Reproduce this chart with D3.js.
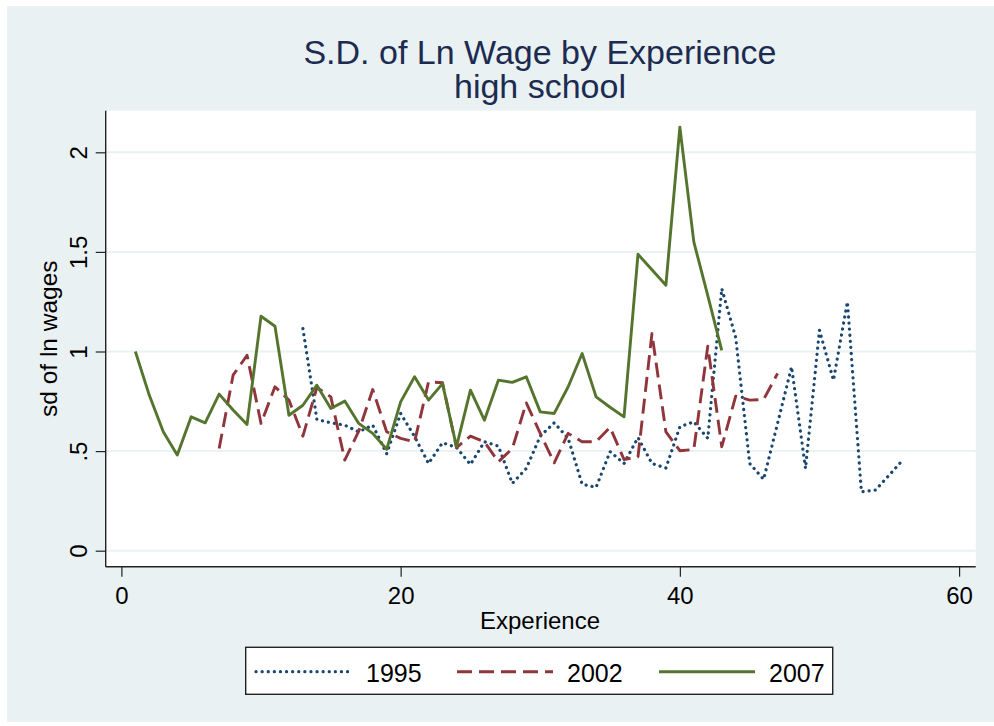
<!DOCTYPE html>
<html>
<head>
<meta charset="utf-8">
<script src="https://cdn.jsdelivr.net/npm/d3@7"></script>
<style>
  body { margin: 0; background: #fff; }
  svg { display: block; font-family: "Liberation Sans", Arial, sans-serif; }
</style>
</head>
<body>
<svg id="chart" width="994" height="726"></svg>
<script>
const width = 994, height = 726;

// experience (years) per series
const exp1995 = d3.range(13, 57);
const exp2002 = d3.range(7, 48);
const exp2007 = d3.range(1, 44);

// sd of ln wages
const sd1995 = [1.115, 0.659, 0.642, 0.63, 0.597, 0.63, 0.487, 0.689, 0.573, 0.438,
  0.542, 0.518, 0.433, 0.547, 0.525, 0.338, 0.413, 0.575, 0.642, 0.564,
  0.334, 0.318, 0.497, 0.438, 0.568, 0.438, 0.415, 0.622, 0.647, 0.564,
  1.316, 1.07, 0.438, 0.358, 0.64, 0.923, 0.413, 1.107, 0.856, 1.249,
  0.296, 0.304, 0.38, 0.458];
const sd2002 = [0.513, 0.881, 0.981, 0.639, 0.823, 0.756, 0.575, 0.819, 0.772, 0.455,
  0.6, 0.809, 0.597, 0.564, 0.547, 0.848, 0.843, 0.518, 0.575, 0.547,
  0.446, 0.513, 0.742, 0.589, 0.441, 0.589, 0.547, 0.547, 0.619, 0.458,
  0.471, 1.09, 0.597, 0.502, 0.508, 1.027, 0.522, 0.776, 0.756, 0.759, 0.89];
const sd2007 = [1.0, 0.78, 0.597, 0.48, 0.672, 0.642, 0.786, 0.706, 0.634, 1.177,
  1.127, 0.68, 0.73, 0.831, 0.714, 0.751, 0.639, 0.589, 0.509, 0.747,
  0.873, 0.756, 0.839, 0.522, 0.806, 0.655, 0.856, 0.845, 0.873, 0.697,
  0.689, 0.823, 0.99, 0.772, 0.72, 0.672, 1.488, 1.41, 1.333, 2.126,
  1.55, 1.28, 1.006];

const seriesNames = ["1995", "2002", "2007"];
const xTicks = [0, 20, 40, 60];
const yTicks = [0, 0.5, 1, 1.5, 2];
const yTickLabels = ["0", ".5", "1", "1.5", "2"];

const series = [
  {name: seriesNames[0], x: exp1995, y: sd1995, color: "#1a476f", dash: "0.1 6", cap: "round", w: 3.2},
  {name: seriesNames[1], x: exp2002, y: sd2002, color: "#90353b", dash: "15 7", cap: "butt", w: 2.9},
  {name: seriesNames[2], x: exp2007, y: sd2007, color: "#55752f", dash: null, cap: "butt", w: 2.9}
];

const plot = {left: 105.7, right: 975.7, top: 110.7, bottom: 566.7};

const x = d3.scaleLinear().domain([0, 60]).range([121.4, 959.1]);
const y = d3.scaleLinear().domain([0, 2]).range([550.7, 152.3]);

const svg = d3.select("#chart");

// outer background
svg.append("rect")
  .attr("x", 7).attr("y", 6)
  .attr("width", width - 7).attr("height", height - 10)
  .attr("fill", "#eaf1f3");

// plot region
svg.append("rect")
  .attr("x", plot.left).attr("y", plot.top)
  .attr("width", plot.right - plot.left).attr("height", plot.bottom - plot.top)
  .attr("fill", "#fff");

// grid
svg.append("g")
  .selectAll("line")
  .data(yTicks)
  .join("line")
    .attr("x1", plot.left).attr("x2", plot.right)
    .attr("y1", d => y(d)).attr("y2", d => y(d))
    .attr("stroke", "#eaf2f3")
    .attr("stroke-width", 2);

// lines
const line = d3.line().x(d => x(d[0])).y(d => y(d[1]));
svg.append("g")
    .attr("fill", "none")
    .attr("stroke-linejoin", "round")
  .selectAll("path")
  .data(series)
  .join("path")
    .attr("stroke", d => d.color)
    .attr("stroke-width", d => d.w)
    .attr("stroke-dasharray", d => d.dash)
    .attr("stroke-linecap", d => d.cap)
    .attr("d", d => line(d.x.map((v, i) => [v, d.y[i]])));

// x axis
const gx = svg.append("g")
  .attr("transform", `translate(0,${plot.bottom})`)
  .call(d3.axisBottom(x).tickValues(xTicks).tickSize(10).tickFormat(d3.format("d")));
gx.select(".domain").attr("d", `M${plot.left},0H${plot.right}`).attr("stroke", "#222").attr("stroke-width", 1.4);
gx.selectAll(".tick line").attr("stroke", "#222").attr("stroke-width", 1.2);
gx.selectAll(".tick text")
  .attr("y", 37.6).attr("dy", 0)
  .attr("font-size", 24).attr("fill", "#000")
  .attr("font-family", "Liberation Sans, Arial, sans-serif");

// y axis
const gy = svg.append("g")
  .attr("transform", `translate(${plot.left},0)`)
  .call(d3.axisLeft(y).tickValues(yTicks).tickSize(10).tickFormat((d, i) => yTickLabels[i]));
gy.select(".domain").attr("d", `M0,${plot.top}V${plot.bottom}`).attr("stroke", "#222").attr("stroke-width", 1.4);
gy.selectAll(".tick line").attr("stroke", "#222").attr("stroke-width", 1.2);
gy.selectAll(".tick text")
  .attr("transform", "rotate(-90)")
  .attr("text-anchor", "middle")
  .attr("x", 0).attr("y", -19).attr("dy", 0)
  .attr("font-size", 24).attr("fill", "#000")
  .attr("font-family", "Liberation Sans, Arial, sans-serif");

// axis titles
svg.append("text")
  .attr("x", 540).attr("y", 629)
  .attr("text-anchor", "middle")
  .attr("font-size", 24)
  .text("Experience");

svg.append("text")
  .attr("transform", `translate(57,${(plot.top + plot.bottom) / 2}) rotate(-90)`)
  .attr("text-anchor", "middle")
  .attr("font-size", 24.5)
  .text("sd of ln wages");

// title
svg.append("g")
    .attr("font-size", 34)
    .attr("fill", "#1c2b50")
    .attr("text-anchor", "middle")
  .selectAll("text")
  .data(["S.D. of Ln Wage by Experience", "high school"])
  .join("text")
    .attr("x", 540)
    .attr("y", (d, i) => 64 + i * 34)
    .text(d => d);

// legend
const legend = svg.append("g");
legend.append("rect")
  .attr("x", 245.7).attr("y", 647.3)
  .attr("width", 587).attr("height", 47)
  .attr("fill", "#fff")
  .attr("stroke", "#222")
  .attr("stroke-width", 1.4);

const legendX = [256, 457, 659];
const item = legend.selectAll("g.item")
  .data(series)
  .join("g")
    .attr("class", "item")
    .attr("transform", (d, i) => `translate(${legendX[i]},671.7)`);
item.append("line")
  .attr("x1", 0).attr("x2", 96)
  .attr("stroke", d => d.color)
  .attr("stroke-width", d => d.w)
  .attr("stroke-dasharray", d => d.dash)
  .attr("stroke-linecap", d => d.cap);
item.append("text")
  .attr("x", 110).attr("y", 10)
  .attr("font-size", 25)
  .text(d => d.name);
</script>
</body>
</html>
